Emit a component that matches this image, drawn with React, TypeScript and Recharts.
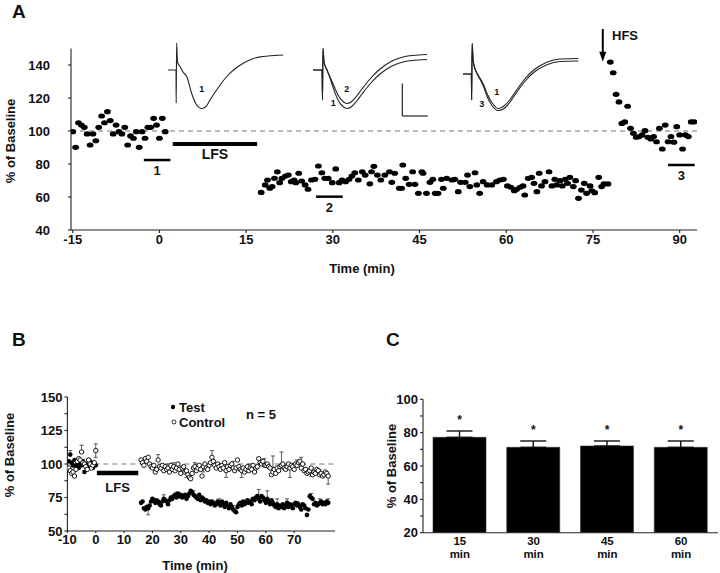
import React from 'react';
import {
  ScatterChart, Scatter, XAxis, YAxis, ReferenceLine, LineChart, Line,
  BarChart, Bar, ErrorBar, LabelList,
} from 'recharts';

const FONT = '"Liberation Sans", Arial, Helvetica, sans-serif';

// ---------------- Panel A : single experiment ----------------
const baselineTimesA = [-15, -14.5, -14, -13.5, -13, -12.5, -12, -11.5, -11, -10.5, -10, -9.5, -9, -8.5, -8, -7.5, -7, -6.5, -6, -5.5, -5, -4.5, -4, -3.5, -3, -2.5, -2, -1.5, -1, -0.5, 0, 0.5, 1];
const baselineValuesA = [99.6, 90.1, 105, 103.6, 102.2, 98.2, 91.5, 98.2, 94.1, 102.2, 109.1, 105, 111.7, 106.3, 98.2, 103.6, 99.6, 98.2, 102.2, 91.5, 97, 95.6, 99.6, 90.1, 99.6, 95.6, 102.2, 102.2, 107.7, 103.6, 95.6, 107.7, 99.6];

const lfsTimesA = [
  17.6, 18.3, 18.7, 19.1, 19.5, 19.9, 20.4, 20.8, 21.2, 21.8,
  22.3, 22.8, 23.3, 23.6, 24.1, 24.6, 25.2, 25.7, 26.3, 26.9,
  27.5, 28.1, 28.6, 29.2, 29.9, 30.5, 31.1, 31.6, 32.2, 32.8,
  33.3, 33.8, 34.4, 35.1, 35.6, 36.4, 36.7, 37.1, 37.7, 38.3,
  39.0, 39.8, 40.2, 40.7, 41.5, 41.9, 42.1, 42.6, 43.2, 43.8,
  44.2, 44.8, 45.4, 45.6, 46.2, 46.8, 47.3, 47.7, 48.2, 48.8,
  49.1, 49.7, 50.6, 51.1, 51.7, 52.1, 52.9, 53.3, 53.7, 54.6,
  54.9, 55.4, 56.0, 56.7, 57.5, 58.3, 58.9, 59.5, 60.2, 60.8,
  61.4, 61.8, 62.4, 62.9, 63.2, 63.8, 64.4, 64.8, 65.3, 65.7,
  66.1, 66.7, 67.4, 67.9, 68.4, 68.7, 69.3, 69.7, 70.2, 70.6,
  71.0, 71.6, 72.0, 72.5, 73.0, 73.5, 73.9, 74.5, 74.8, 75.3,
  76.0, 76.5, 76.9, 77.6,
];
const lfsValuesA = [
  62.8, 67.3, 70.3, 65.3, 66.3, 71.3, 75.3, 68.7, 71.3, 72.7,
  73.3, 69.3, 70.3, 68.7, 74.4, 69.7, 67.3, 64.7, 70.3, 70.7,
  78.8, 74.7, 71.3, 71.3, 68.7, 77, 68.7, 70.3, 69.3, 70.7,
  72.7, 74.7, 70.3, 75.3, 73.3, 68, 75.3, 78.6, 73.3, 70.3,
  73.3, 75.3, 68.9, 74.4, 65.3, 65.3, 79.4, 71.3, 67.7, 75.3,
  67.7, 62.2, 75.3, 74.4, 62.2, 68.9, 70.7, 62.2, 62.2, 70.7,
  65.3, 71.3, 70.3, 70.7, 63.2, 68.9, 68.9, 73.3, 66.3, 74.7,
  67.3, 62.2, 69.3, 67.3, 67.3, 69.3, 70.3, 70.7, 66.7, 65.9,
  63.8, 64.7, 65.9, 66.7, 61.2, 71.3, 71.9, 68.3, 63.2, 74.4,
  66.7, 69.3, 75.3, 66.7, 70.7, 67.3, 69.9, 66.7, 70.7, 68.3,
  71.9, 66.3, 69.9, 59.2, 64.2, 68.3, 62.2, 66.7, 63.8, 62.6,
  71.9, 66.3, 67.9, 67.9,
];

const hfsTimesA = [78, 78.5, 79, 79.5, 80, 80.5, 81, 81.5, 82, 82.5, 83, 83.5, 84, 84.5, 85, 85.5, 86, 86.5, 87, 87.5, 88, 88.5, 89, 89.5, 90, 90.5, 91, 91.5, 92, 92.5];
const hfsValuesA = [141.8, 135.3, 122.2, 117.6, 104.6, 105.5, 115, 101.6, 98.6, 96.2, 96.6, 97.6, 100.2, 96.2, 95.2, 96.6, 93.5, 101.6, 89.1, 103.6, 93.5, 96.6, 93.2, 102.6, 97.6, 89.1, 97.6, 96.6, 105.5, 105.5];

const timeTicksA = [-15, 0, 15, 30, 45, 60, 75, 90];
const pctTicksA = [40, 60, 80, 100, 120, 140];

const periodLabelsA = ['LFS', '1', '2', '3'];
const periodFromA = [2.3, -2.7, 27.1, 88.0];
const periodToA = [16.9, 1.9, 31.7, 92.6];
const periodLevelA = [92.1, 82.4, 60.2, 79.4];

const hfsTimeA = 76.7;
const hfsArrowTopA = 161.8;
const hfsArrowTipA = 142;

// sample EPSP traces (ms, mV)
const trace1T = [0, 1.4, 1.6, 1.64, 1.72, 1.9, 2.4, 3.0, 3.74, 4.74, 5.6, 6.74, 7.6, 8.4, 10.0, 11.74, 14.0, 17.06, 20.0, 23.06];
const trace1V = [0, 0, 0, -0.66, 0.54, 0.16, 0.07, -0.04, -0.13, -0.47, -0.68, -0.77, -0.73, -0.6, -0.36, -0.13, 0.07, 0.23, 0.28, 0.3];

const trace2T = [0, 1.8, 1.9, 2.0, 2.2, 2.8, 3.4, 4.2, 5.0, 6.0, 6.8, 7.6, 8.6, 9.8, 11.4, 13.4, 15.8, 18.4, 21, 22.8];
const trace2V1 = [0, 0, -0.6, 0.43, 0.16, 0, -0.16, -0.4, -0.6, -0.73, -0.77, -0.74, -0.64, -0.48, -0.28, -0.08, 0.08, 0.17, 0.2, 0.21];
const trace2V2 = [0, 0, -0.6, 0.43, 0.16, 0, -0.14, -0.32, -0.5, -0.63, -0.67, -0.64, -0.54, -0.38, -0.18, 0.02, 0.18, 0.27, 0.3, 0.31];

const trace3T = [0, 1.66, 1.74, 1.82, 2.06, 2.66, 3.26, 4.06, 4.86, 5.86, 7.06, 8.06, 9.26, 10.66, 12.26, 14.26, 16.66, 19.46, 23.06];
const trace3V1 = [-0.08, -0.08, -0.6, 0.53, 0.16, -0.04, -0.16, -0.32, -0.54, -0.72, -0.81, -0.78, -0.66, -0.46, -0.24, -0.04, 0.1, 0.17, 0.18];
const trace3V2 = [-0.08, -0.08, -0.6, 0.53, 0.16, -0.04, -0.14, -0.28, -0.48, -0.66, -0.77, -0.73, -0.61, -0.41, -0.19, 0.01, 0.15, 0.22, 0.23];

const scaleBarT = [17.86, 22.94];
const scaleBarV = [-0.92, -0.27];

// ---------------- Panel B : group data ----------------
const baseTimesB = [-9.5, -9, -8.5, -8, -7.5, -7, -6.5, -6, -5.5, -5, -4.5, -4, -3.5, -3, -2.5, -2, -1.5, -1, -0.5, 0];
const testBaseB = [102, 107, 101, 99, 103, 98, 100, 97, 101, 99, 102, 94, 100, 98, 103, 99, 101, 97, 100, 99];
const ctrlBaseB = [97, 95, 93, 94, 91, 96, 102, 104, 103, 109, 101, 100, 98, 96, 103, 100, 97, 99, 101, 110];

const postTimesB = [
  16, 16.5, 17, 17.5, 18, 18.5, 19, 19.5, 20, 20.5, 21,
  21.5, 22, 22.5, 23, 23.5, 24, 24.5, 25, 25.5, 26, 26.5,
  27, 27.5, 28, 28.5, 29, 29.5, 30, 30.5, 31, 31.5, 32,
  32.5, 33, 33.5, 34, 34.5, 35, 35.5, 36, 36.5, 37, 37.5,
  38, 38.5, 39, 39.5, 40, 40.5, 41, 41.5, 42, 42.5, 43,
  43.5, 44, 44.5, 45, 45.5, 46, 46.5, 47, 47.5, 48, 48.5,
  49, 49.5, 50, 50.5, 51, 51.5, 52, 52.5, 53, 53.5, 54,
  54.5, 55, 55.5, 56, 56.5, 57, 57.5, 58, 58.5, 59, 59.5,
  60, 60.5, 61, 61.5, 62, 62.5, 63, 63.5, 64, 64.5, 65,
  65.5, 66, 66.5, 67, 67.5, 68, 68.5, 69, 69.5, 70, 70.5,
  71, 71.5, 72, 72.5, 73, 73.5, 74, 74.5, 75, 75.5, 76,
  76.5, 77, 77.5, 78, 78.5, 79, 79.5, 80, 80.5, 81, 81.5,
  82,
];
const testPostB = [
  71, 72, 67, 66, 68, 67, 69, 72, 74, 73, 71,
  73, 72, 70, 69, 72, 74, 73, 72, 70, 73, 75,
  74, 76, 77, 75, 78, 76, 77, 75, 76, 77, 74,
  76, 78, 80, 79, 77, 76, 75, 74, 77, 73, 75,
  74, 72, 73, 71, 72, 70, 72, 71, 69, 70, 72,
  71, 69, 72, 70, 68, 71, 69, 67, 70, 68, 66,
  65, 64, 68, 70, 71, 69, 72, 70, 71, 73, 71,
  72, 70, 74, 73, 75, 76, 74, 72, 76, 75, 73,
  71, 74, 72, 70, 73, 71, 69, 68, 70, 67, 69,
  68, 70, 67, 69, 71, 68, 70, 69, 67, 70, 71,
  69, 70, 68, 66, 70, 69, 67, 62, 66, 76, 75,
  74, 70, 71, 69, 70, 71, 72, 70, 71, 70, 72,
  71,
];
const ctrlPostB = [
  103, 101, 99, 104, 102, 105, 100, 98, 97, 99, 94,
  96, 103, 98, 97, 99, 95, 98, 96, 97, 94, 99,
  96, 98, 95, 97, 100, 96, 93, 97, 98, 94, 95,
  92, 90, 89, 93, 97, 98, 95, 97, 99, 96, 91,
  98, 100, 97, 96, 99, 101, 105, 102, 99, 97, 100,
  98, 96, 99, 97, 101, 95, 98, 96, 99, 100, 97,
  95, 97, 103, 98, 96, 95, 97, 94, 96, 98, 95,
  97, 96, 99, 94, 97, 98, 104, 101, 100, 102, 99,
  99, 100, 98, 97, 92, 94, 96, 93, 97, 95, 98,
  99, 100, 97, 96, 98, 100, 97, 99, 98, 96, 100,
  99, 101, 102, 97, 100, 95, 96, 93, 94, 95, 97,
  92, 94, 93, 96, 95, 92, 93, 91, 92, 94, 93,
  91,
];

const ctrlErrTimesB = [-6.5, -5, -2, 0, 22, 25, 27.5, 30, 32, 35, 38, 41, 44, 46, 48.5, 51.5, 54, 56, 59.5, 62.5, 65.5, 68.5, 71, 72.5, 76, 79, 82];
const ctrlErrLowB = [6, 0, 0, 5, 0, 0, 0, 0, 5, 0, 4, 0, 0, 5, 0, 5, 0, 0, 0, 0, 0, 7, 0, 0, 6, 0, 6];
const ctrlErrHighB = [0, 5, 3, 5, 4, 4, 3, 3, 0, 3, 0, 5, 4, 0, 5, 0, 5, 4, 5, 12, 10, 0, 4, 8, 0, 4, 0];

const testErrTimesB = [-9, -5, 18.5, 24, 28.5, 32, 34.5, 37, 43.5, 48.5, 55, 57.5, 60.5, 64, 67.5, 71, 76, 79, 82];
const testErrLowB = [0, 0, 5, 0, 0, 0, 0, 0, 0, 0, 0, 0, 0, 0, 0, 0, 0, 0, 0];
const testErrHighB = [3, 3, 0, 3, 4, 3, 3, 3, 3, 3, 4, 7, 6, 4, 3, 3, 3, 3, 3];

const timeTicksB = [-10, 0, 10, 20, 30, 40, 50, 60, 70];
const pctTicksB = [50, 62.5, 75, 87.5, 100, 112.5, 125, 137.5, 150];
const lfsFromB = 0.4;
const lfsToB = 15;
const lfsLevelB = 93.3;

// ---------------- Panel C : summary bars ----------------
const barLabelsC = ['15', '30', '45', '60'];
const barValuesC = [77.2, 71.2, 72.0, 71.2];
const barErrorsC = [3.8, 3.8, 3.0, 3.8];
const pctTicksC = [20, 30, 40, 50, 60, 70, 80, 90, 100];

// ---------------- helpers ----------------
const pairs = (ts: number[], vs: number[]) => ts.map((t, i) => ({ t, v: vs[i] }));
const pointsA = [
  ...pairs(baselineTimesA, baselineValuesA),
  ...pairs(lfsTimesA, lfsValuesA),
  ...pairs(hfsTimesA, hfsValuesA),
];
const testB = [...pairs(baseTimesB, testBaseB), ...pairs(postTimesB, testPostB)];
const ctrlB = [...pairs(baseTimesB, ctrlBaseB), ...pairs(postTimesB, ctrlPostB)];
const errRows = (series: { t: number; v: number }[], ts: number[], lo: number[], hi: number[]) =>
  ts.map((t, i) => {
    const p = series.find((q) => q.t === t);
    return { t, v: p ? p.v : 100, e: [lo[i], hi[i]] };
  });
const testErrB = errRows(testB, testErrTimesB, testErrLowB, testErrHighB);
const ctrlErrB = errRows(ctrlB, ctrlErrTimesB, ctrlErrLowB, ctrlErrHighB);
const barDataC = barLabelsC.map((label, i) => ({ label, v: barValuesC[i], e: [0, barErrorsC[i]] }));

const trace1 = trace1T.map((t, i) => ({ t, a: trace1V[i] }));
const trace2 = trace2T.map((t, i) => ({ t, a: trace2V1[i], b: trace2V2[i] }));
const trace3 = trace3T.map((t, i) => ({ t, a: trace3V1[i], b: trace3V2[i] }));

const tickStyle = { fontSize: 13, fontWeight: 'bold', fill: '#111', fontFamily: FONT };
const axisStroke = { stroke: '#222', strokeWidth: 1.1 };

const DotA = (p: any) => <ellipse cx={p.cx} cy={p.cy} rx={3.4} ry={2.6} fill="#000" />;
const DotFilled = (p: any) => <circle cx={p.cx} cy={p.cy} r={2.3} fill="#000" />;
const DotOpen = (p: any) => <circle cx={p.cx} cy={p.cy} r={2.2} fill="#fff" stroke="#000" strokeWidth={0.9} />;
const NoDot = () => <g />;

const ArrowShape = (p: any) => {
  const { x1, y1, x2, y2 } = p;
  return (
    <g>
      <line x1={x1} y1={y1} x2={x2} y2={y2 - 6} stroke="#000" strokeWidth={2} />
      <polygon points={`${x2 - 3.5},${y2 - 10} ${x2 + 3.5},${y2 - 10} ${x2},${y2}`} fill="#000" />
    </g>
  );
};

const MinTick = (p: any) => {
  const { x, y, payload } = p;
  return (
    <g>
      <text x={x} y={y + 12} textAnchor="middle" fontSize={11.5} fontWeight="bold" fill="#111" fontFamily={FONT}>{payload.value}</text>
      <text x={x} y={y + 25} textAnchor="middle" fontSize={11.5} fontWeight="bold" fill="#111" fontFamily={FONT}>min</text>
    </g>
  );
};

const StarLabel = (p: any) => {
  const { x, y, width, height, value, index } = p;
  const k = height / (value - 20);
  const top = y - barErrorsC[index] * k;
  return (
    <text x={x + width / 2} y={top - 7} textAnchor="middle" fontSize={12} fontWeight="bold" fill="#111" fontFamily={FONT}>*</text>
  );
};

const TraceChart = ({ data, left, two, children }: any) => (
  <div style={{ position: 'absolute', left, top: 40 }}>
    <LineChart width={120} height={80} data={data} margin={{ top: 0, right: 0, bottom: 0, left: 0 }}>
      <XAxis type="number" dataKey="t" domain={[0, 24]} hide />
      <YAxis type="number" domain={[-1, 0.6]} hide />
      <Line dataKey="a" type="monotone" stroke="#222" strokeWidth={1.1} dot={false} isAnimationActive={false} />
      {two && <Line dataKey="b" type="monotone" stroke="#222" strokeWidth={1.1} dot={false} isAnimationActive={false} />}
      {children}
    </LineChart>
  </div>
);

export default function App() {
  return (
    <div style={{ position: 'absolute', left: 0, top: 0, width: 720, height: 573, background: '#fff', fontFamily: FONT, overflow: 'hidden' }}>
      {/* Panel A */}
      <div style={{ position: 'absolute', left: 0, top: 0 }}>
        <ScatterChart width={720} height={290} margin={{ top: 48.5, right: 23, bottom: 0, left: 0 }}>
          <XAxis type="number" dataKey="t" domain={[-15.3, 93]} ticks={timeTicksA} interval={0} allowDataOverflow
            height={60} tickSize={3} tickMargin={2} axisLine={axisStroke} tickLine={axisStroke} tick={tickStyle} />
          <YAxis type="number" dataKey="v" domain={[40, 150]} ticks={pctTicksA} interval={0} allowDataOverflow
            width={71} tickSize={3} tickMargin={18} axisLine={axisStroke} tickLine={axisStroke} tick={tickStyle} />
          <ReferenceLine y={100} stroke="#777" strokeDasharray="5 4" strokeWidth={1} />
          {periodLabelsA.map((lab, i) => (
            <ReferenceLine key={lab} ifOverflow="visible"
              segment={[{ x: periodFromA[i], y: periodLevelA[i] }, { x: periodToA[i], y: periodLevelA[i] }]}
              stroke="#000" strokeWidth={lab === 'LFS' ? 4 : 2.5}
              label={{ value: lab, position: 'bottom', offset: lab === 'LFS' ? 5 : 6, fontSize: lab === 'LFS' ? 14 : 13, fontWeight: 'bold', fill: '#111', fontFamily: FONT }} />
          ))}
          <ReferenceLine ifOverflow="visible" segment={[{ x: hfsTimeA, y: hfsArrowTopA }, { x: hfsTimeA, y: hfsArrowTipA }]} shape={ArrowShape} />
          <Scatter data={pointsA} shape={DotA} isAnimationActive={false} />
        </ScatterChart>
      </div>

      <TraceChart data={trace1} left={168} />
      <TraceChart data={trace2} left={313} two>
        <ReferenceLine ifOverflow="visible" segment={[{ x: scaleBarT[0], y: scaleBarV[1] }, { x: scaleBarT[0], y: scaleBarV[0] }]} stroke="#222" strokeWidth={1.2} />
        <ReferenceLine ifOverflow="visible" segment={[{ x: scaleBarT[0], y: scaleBarV[0] }, { x: scaleBarT[1], y: scaleBarV[0] }]} stroke="#222" strokeWidth={1.2} />
      </TraceChart>
      <TraceChart data={trace3} left={462.7} two />

      {/* Panel B */}
      <div style={{ position: 'absolute', left: 0, top: 380 }}>
        <ScatterChart width={360} height={193} margin={{ top: 17, right: 25, bottom: 0, left: 0 }}>
          <XAxis type="number" dataKey="t" domain={[-10, 84.4]} ticks={timeTicksB} interval={0} allowDataOverflow
            height={42} tickSize={2} tickMargin={2} axisLine={axisStroke} tickLine={axisStroke} tick={tickStyle} />
          <YAxis type="number" dataKey="v" domain={[50, 150]} ticks={pctTicksB} interval={0} allowDataOverflow
            width={67.4} tickSize={3} tickMargin={2} axisLine={axisStroke} tickLine={axisStroke} tick={tickStyle}
            tickFormatter={(v: number) => (v % 25 === 0 ? String(v) : '')} />
          <ReferenceLine y={100} stroke="#777" strokeDasharray="5 4" strokeWidth={1} />
          <ReferenceLine ifOverflow="visible" segment={[{ x: lfsFromB, y: lfsLevelB }, { x: lfsToB, y: lfsLevelB }]}
            stroke="#000" strokeWidth={4.5}
            label={{ value: 'LFS', position: 'bottom', offset: 10, fontSize: 13, fontWeight: 'bold', fill: '#111', fontFamily: FONT }} />
          <Scatter data={testErrB} shape={NoDot} isAnimationActive={false}>
            <ErrorBar dataKey="e" direction="y" width={2} stroke="#333" strokeWidth={0.8} />
          </Scatter>
          <Scatter data={ctrlErrB} shape={NoDot} isAnimationActive={false}>
            <ErrorBar dataKey="e" direction="y" width={2} stroke="#333" strokeWidth={0.8} />
          </Scatter>
          <Scatter data={testB} shape={DotFilled} isAnimationActive={false} />
          <Scatter data={ctrlB} shape={DotOpen} isAnimationActive={false} />
        </ScatterChart>
      </div>

      {/* Panel C */}
      <div style={{ position: 'absolute', left: 380, top: 380 }}>
        <BarChart width={340} height={193} data={barDataC} margin={{ top: 19.3, right: 2, bottom: 0, left: 0 }}>
          <XAxis dataKey="label" height={40.3} tickLine={false} tickSize={0} tickMargin={0} axisLine={axisStroke} tick={<MinTick />} interval={0} />
          <YAxis type="number" domain={[20, 100]} ticks={pctTicksC} interval={0} allowDataOverflow width={43}
            tickSize={3} tickMargin={2} axisLine={axisStroke} tickLine={axisStroke} tick={tickStyle}
            tickFormatter={(v: number) => (v % 20 === 0 ? String(v) : '')} />
          <Bar dataKey="v" fill="#000" stroke="#333" strokeWidth={0.6} barSize={53} isAnimationActive={false}>
            <ErrorBar dataKey="e" direction="y" width={13} stroke="#111" strokeWidth={1.4} />
            <LabelList dataKey="v" content={StarLabel} />
          </Bar>
        </BarChart>
      </div>

      {/* Text overlay */}
      <svg width={720} height={573} style={{ position: 'absolute', left: 0, top: 0, pointerEvents: 'none' }} fontFamily={FONT} fontWeight="bold" fill="#111">
        <text x={12} y={18} fontSize={19}>A</text>
        <text x={12} y={346} fontSize={19}>B</text>
        <text x={386} y={346} fontSize={19}>C</text>

        <text x={10} y={141} fontSize={13} textAnchor="middle" dominantBaseline="central" transform="rotate(-90 10 141)">% of Baseline</text>
        <text x={362} y={268} fontSize={13} textAnchor="middle" dominantBaseline="central">Time (min)</text>
        <text x={612} y={35} fontSize={13} dominantBaseline="central">HFS</text>

        <text x={201.7} y={89.3} fontSize={9} textAnchor="middle" dominantBaseline="central">1</text>
        <text x={333.3} y={102.7} fontSize={9} textAnchor="middle" dominantBaseline="central">1</text>
        <text x={346.7} y={89.3} fontSize={9} textAnchor="middle" dominantBaseline="central">2</text>
        <text x={496.7} y={91.7} fontSize={9} textAnchor="middle" dominantBaseline="central">1</text>
        <text x={481.7} y={104} fontSize={9} textAnchor="middle" dominantBaseline="central">3</text>

        <text x={9} y={455} fontSize={13} textAnchor="middle" dominantBaseline="central" transform="rotate(-90 9 455)">% of Baseline</text>
        <text x={195} y={565} fontSize={13} textAnchor="middle" dominantBaseline="central">Time (min)</text>
        <circle cx={173} cy={407} r={2.2} fill="#000" />
        <text x={179} y={407} fontSize={13} dominantBaseline="central">Test</text>
        <circle cx={174} cy={422} r={2} fill="#fff" stroke="#000" strokeWidth={0.8} />
        <text x={179} y={422} fontSize={13} dominantBaseline="central">Control</text>
        <text x={246} y={414} fontSize={13} dominantBaseline="central">n = 5</text>

        <text x={391} y={466} fontSize={13} textAnchor="middle" dominantBaseline="central" transform="rotate(-90 391 466)">% of Baseline</text>
      </svg>
    </div>
  );
}
